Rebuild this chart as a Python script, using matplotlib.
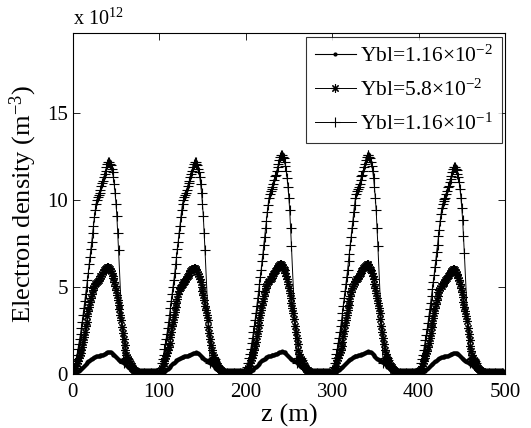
import numpy as np
import matplotlib
matplotlib.use("Agg")
import matplotlib.pyplot as plt

plt.rcParams['font.family'] = ['Liberation Serif', 'DejaVu Serif']
plt.rcParams['mathtext.fontset'] = 'custom'
plt.rcParams['mathtext.rm'] = 'Liberation Serif'
plt.rcParams['mathtext.it'] = 'Liberation Serif:italic'

# one period (100 m), first period values in units of 1e12 m^-3
z_low = np.arange(0, 100, 1)
n_low = [0.0, 0.01, 0.02, 0.05, 0.08, 0.11, 0.15, 0.18, 0.22, 0.26,
         0.30, 0.35, 0.40, 0.45, 0.50, 0.55, 0.60, 0.65, 0.70, 0.74,
         0.78, 0.82, 0.85, 0.89, 0.92, 0.95, 0.97, 0.99, 1.00, 1.02,
         1.03, 1.04, 1.05, 1.07, 1.08, 1.10, 1.12, 1.15, 1.18, 1.20,
         1.22, 1.24, 1.25, 1.24, 1.22, 1.19, 1.15, 1.10, 1.05, 1.00,
         0.95, 0.90, 0.85, 0.81, 0.78, 0.75, 0.72, 0.69, 0.66, 0.63,
         0.60, 0.55, 0.50, 0.45, 0.40, 0.35, 0.30, 0.26, 0.22, 0.19,
         0.16, 0.13, 0.11, 0.09, 0.07, 0.05, 0.04, 0.03, 0.02, 0.015,
         0.01, 0.01, 0.01, 0.01, 0.01, 0.01, 0.01, 0.01, 0.01, 0.01,
         0.01, 0.01, 0.01, 0.01, 0.01, 0.01, 0.01, 0.01, 0.005, 0.0]

z_mid = np.arange(0, 100, 1)
n_mid = [0.0, 0.10, 0.20, 0.30, 0.45, 0.60, 0.75, 0.90, 1.05, 1.20,
         1.35, 1.55, 1.80, 2.10, 2.40, 2.75, 3.00, 3.30, 3.60, 3.85,
         4.10, 4.35, 4.60, 4.80, 4.95, 5.05, 5.15, 5.20, 5.30, 5.35,
         5.40, 5.50, 5.60, 5.65, 5.75, 5.85, 5.95, 6.00, 6.05, 6.10,
         6.15, 6.15, 6.10, 6.00, 5.90, 5.80, 5.65, 5.50, 5.30, 5.05,
         4.80, 4.55, 4.25, 3.95, 3.70, 3.40, 3.10, 2.70, 2.35, 2.00,
         1.65, 1.35, 1.10, 0.95, 0.82, 0.70, 0.60, 0.50, 0.42, 0.35,
         0.28, 0.22, 0.18, 0.14, 0.11, 0.08, 0.06, 0.05, 0.04, 0.03,
         0.02, 0.02, 0.01, 0.01, 0.01, 0.01, 0.01, 0.01, 0.01, 0.01,
         0.01, 0.01, 0.01, 0.01, 0.01, 0.01, 0.01, 0.01, 0.01, 0.0]

z_high = np.concatenate([np.arange(0, 54, 1), np.arange(59, 100, 1)])
n_high = [0.0, 0.15, 0.35, 0.60, 0.85, 1.10, 1.40, 1.70, 2.00, 2.30,
          2.65, 3.00, 3.40, 3.80, 4.20, 4.60, 5.00, 5.40, 5.80, 6.30,
          6.70, 7.20, 7.60, 8.10, 8.50, 9.00, 9.40, 9.80, 10.0, 10.2,
          10.3, 10.4, 10.6, 10.8, 11.0, 11.1, 11.3, 11.5, 11.7, 11.9,
          12.1, 12.2, 12.2, 12.1, 12.0, 11.8, 11.6, 11.3, 10.9, 10.4,
          9.8, 9.1, 8.1, 7.1,
          0.60, 0.75, 0.85, 0.90, 0.90, 0.85, 0.75, 0.62, 0.50, 0.40,
          0.32, 0.25, 0.20, 0.16, 0.12, 0.09, 0.07, 0.05, 0.04, 0.03,
          0.02, 0.02, 0.01, 0.01, 0.01, 0.01, 0.01, 0.01, 0.01, 0.01,
          0.01, 0.01, 0.01, 0.01, 0.01, 0.01, 0.01, 0.01, 0.01, 0.01, 0.0]

# peak value in each of the 5 periods
peak_low = [1.25, 1.22, 1.28, 1.28, 1.20]
peak_mid = [6.15, 6.10, 6.30, 6.30, 6.00]
peak_high = [12.2, 12.2, 12.6, 12.6, 11.9]

labels = [r'Ybl=1.16$\times$10$^{-2}$', r'Ybl=5.8$\times$10$^{-2}$',
          r'Ybl=1.16$\times$10$^{-1}$']


def build(zp, npf, peaks):
    zs, ns = [], []
    base = max(npf)
    for i, p in enumerate(peaks):
        zs.extend(np.asarray(zp) + 100 * i)
        ns.extend(np.asarray(npf) * p / base)
    zs.append(500)
    ns.append(0.0)
    return np.array(zs), np.array(ns)


fig = plt.figure(figsize=(5.31, 4.28), dpi=100)
ax = fig.add_axes([0.137, 0.127, 0.814, 0.795])

z1, y1 = build(z_low, n_low, peak_low)
z2, y2 = build(z_mid, n_mid, peak_mid)
z3, y3 = build(z_high, n_high, peak_high)

ax.plot(z1, y1, color='k', lw=0.8, marker='.', ms=4, label=labels[0])
ax.plot(z2, y2, color='k', lw=0.7, marker=(8, 2, 0), ms=6, mew=0.8, label=labels[1])
ax.plot(z3, y3, color='k', lw=0.7, marker='+', ms=6.5, mew=0.8, label=labels[2])

ax.set_xlim(0, 500)
ax.set_ylim(0, 19.6)
ax.set_xticks([0, 100, 200, 300, 400, 500])
ax.set_yticks([0, 5, 10, 15])
ax.tick_params(direction='in', top=True, right=True, length=5, width=0.6, labelsize=15)
ax.tick_params(axis='x', pad=7)
for s in ax.spines.values():
    s.set_linewidth(0.8)

ax.set_xlabel('z (m)', fontsize=19, labelpad=1)
ax.set_ylabel(r'Electron density (m$^{-3}$)', fontsize=19, labelpad=6)
ax.text(0.0, 1.012, r'x 10$^{12}$', transform=ax.transAxes, fontsize=14.5, ha='left', va='bottom')

leg = ax.legend(loc='upper right', fontsize=15.5, frameon=True, fancybox=False,
                edgecolor='k', borderaxespad=0.15, handlelength=1.9, handletextpad=0.2,
                labelspacing=0.6, borderpad=0.4)
leg.get_frame().set_linewidth(0.8)

fig.savefig('out.png', dpi=100)
